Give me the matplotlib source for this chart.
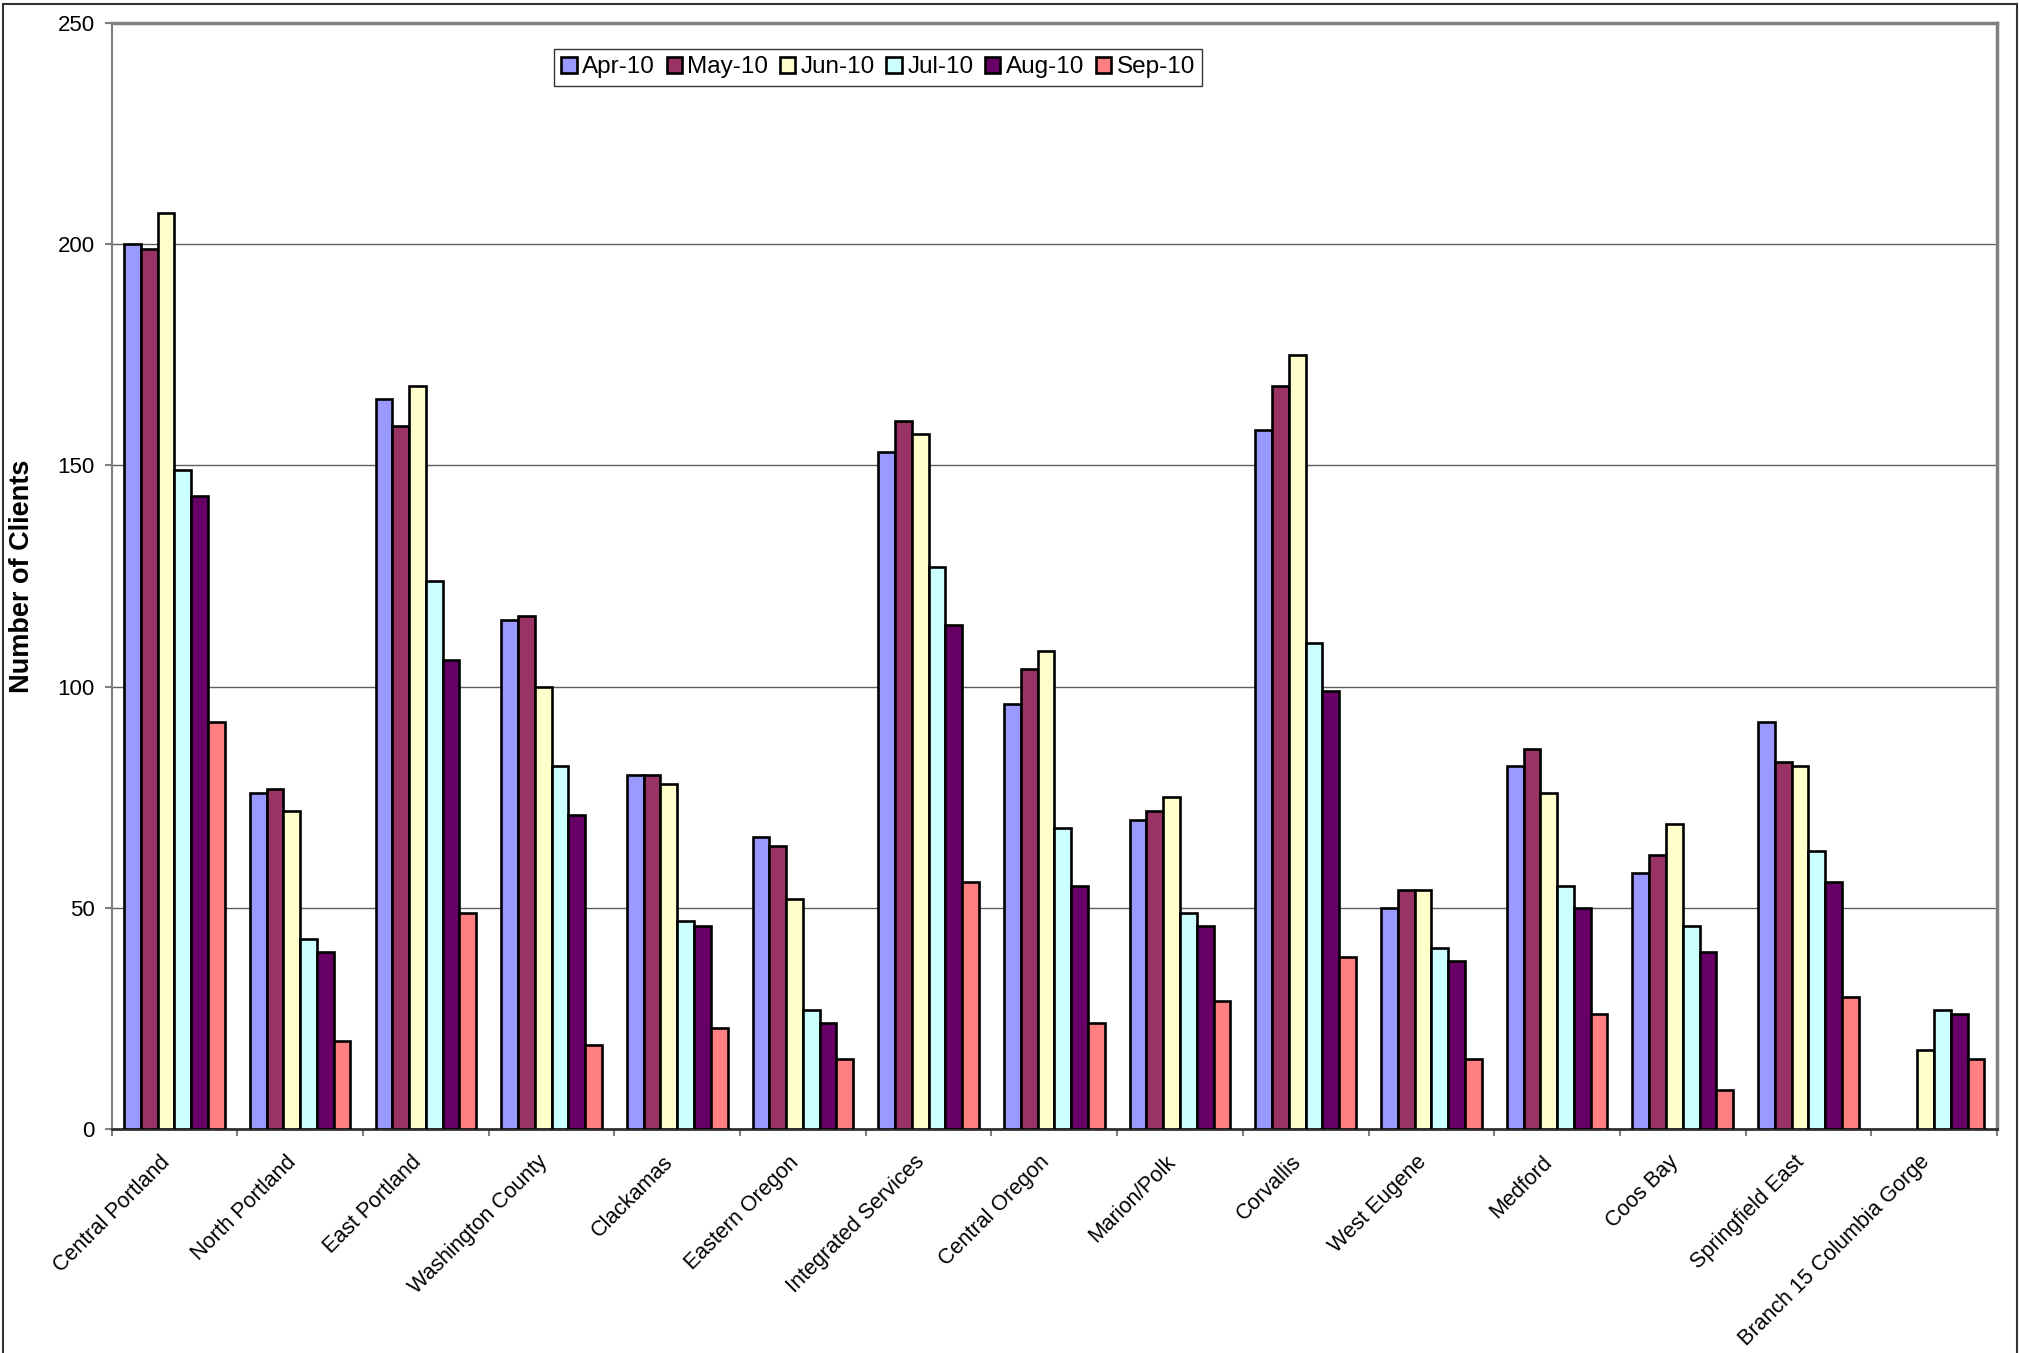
import numpy as np
import matplotlib
matplotlib.use("Agg")
from matplotlib import pyplot as plt
from matplotlib.patches import Rectangle
from matplotlib.transforms import ScaledTranslation

plt.rcParams['font.family'] = ['Liberation Sans', 'DejaVu Sans']

offices = ["Central Portland", "North Portland", "East Portland", "Washington County",
           "Clackamas", "Eastern Oregon", "Integrated Services", "Central Oregon",
           "Marion/Polk", "Corvallis", "West Eugene", "Medford", "Coos Bay",
           "Springfield East", "Branch 15 Columbia Gorge"]
months = ["Apr-10", "May-10", "Jun-10", "Jul-10", "Aug-10", "Sep-10"]

apr_10 = [200, 76, 165, 115, 80, 66, 153, 96, 70, 158, 50, 82, 58, 92, np.nan]
may_10 = [199, 77, 159, 116, 80, 64, 160, 104, 72, 168, 54, 86, 62, 83, np.nan]
jun_10 = [207, 72, 168, 100, 78, 52, 157, 108, 75, 175, 54, 76, 69, 82, 18]
jul_10 = [149, 43, 124, 82, 47, 27, 127, 68, 49, 110, 41, 55, 46, 63, 27]
aug_10 = [143, 40, 106, 71, 46, 24, 114, 55, 46, 99, 38, 50, 40, 56, 26]
sep_10 = [92, 20, 49, 19, 23, 16, 56, 24, 29, 39, 16, 26, 9, 30, 16]

colors = ["#9999FF", "#993366", "#FFFFCC", "#CCFFFF", "#660066", "#FF8080"]

fig = plt.figure(figsize=(20.19, 13.53), dpi=100)
ax = fig.add_axes([0.0553, 0.1652, 0.9338, 0.8180])

x = np.arange(len(offices))
width = 1 / 7.5
series = [apr_10, may_10, jun_10, jul_10, aug_10, sep_10]
for j, (vals, col, lab) in enumerate(zip(series, colors, months)):
    ax.bar(x + (j - 2.5) * width, vals, width, color=col, edgecolor="black",
           linewidth=1.9, label=lab, zorder=3)

ax.set_xlim(-0.5, len(offices) - 0.5)
ax.set_ylim(0, 250)
ax.set_yticks(np.arange(0, 251, 50))
ax.yaxis.grid(True, color="#5f5f5f", linewidth=1.0, zorder=0)

# category boundaries get the tick marks, centres get the labels
ax.set_xticks(np.arange(-0.5, len(offices), 1.0))
ax.set_xticklabels([])
ax.set_xticks(x, minor=True)
ax.set_xticklabels(offices, minor=True, rotation=45, ha="right", va="top",
                   rotation_mode="anchor", fontsize=15.5)
ax.tick_params(axis="x", which="minor", length=0, pad=16)
ax.tick_params(axis="x", which="major", length=5, width=1.5, color="#808080")
ax.tick_params(axis="y", length=5, width=1.5, color="#808080", labelsize=16, pad=7)
shift = ScaledTranslation(-15 / 100, 0, fig.dpi_scale_trans)
for lbl in ax.get_xticklabels(minor=True):
    lbl.set_transform(lbl.get_transform() + shift)

for side in ["top", "right"]:
    ax.spines[side].set_color("#808080")
    ax.spines[side].set_linewidth(2.5)
ax.spines["left"].set_color("#808080")
ax.spines["left"].set_linewidth(1.5)
ax.spines["bottom"].set_color("#303030")
ax.spines["bottom"].set_linewidth(2)

ax.set_ylabel("Number of Clients", fontsize=19.5, fontweight="bold")
ax.yaxis.set_label_coords(-0.0407, 0.5)

leg = ax.legend(loc="upper left", bbox_to_anchor=(0.2744, 0.9638),
                bbox_transform=fig.transFigure, ncol=6, fontsize=17.5,
                frameon=True, fancybox=False, shadow=False,
                handlelength=0.63, handleheight=0.63, handletextpad=0.23,
                columnspacing=0.47, borderpad=0.3, borderaxespad=0)
leg.get_frame().set_edgecolor("black")
leg.get_frame().set_linewidth(1.0)
for h in leg.legend_handles:
    h.set_linewidth(1.9)

# outer chart border
fig.patches.append(Rectangle((3 / 2019, -0.01), 2014 / 2019, 1.01 - 4 / 1353,
                             transform=fig.transFigure, fill=False,
                             edgecolor="#333333", linewidth=1.5))

fig.savefig("out.png", dpi=100)
